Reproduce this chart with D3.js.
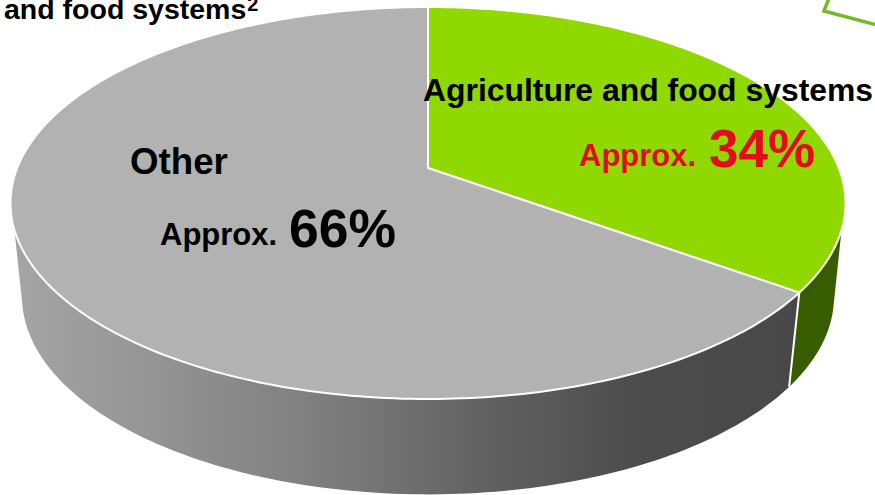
<!DOCTYPE html>
<html><head><meta charset="utf-8">
<script src="https://cdn.jsdelivr.net/npm/d3@7"></script>
<style>
html,body{margin:0;padding:0;background:#fff;overflow:hidden}
text{font-family:"Liberation Sans",Arial,sans-serif;font-weight:700}
</style></head><body>
<svg id="c" width="875" height="495"></svg>
<script>
const categories = ["Agriculture and food systems", "Other"];
const shares = [34, 66];
const prefixLabel = "Approx.";
const shareLabels = ["34%", "66%"];
const topColors = ["#8fd800", "#b2b2b2"];
const wallColors = ["#385c00", "url(#wall)"];
const headerFragment = "and food systems";

const svg = d3.select("#c");
const defs = svg.append("defs");
const grad = defs.append("linearGradient").attr("id","wall").attr("gradientUnits","userSpaceOnUse")
  .attr("x1",12).attr("x2",800).attr("y1",0).attr("y2",0);
[[0,"#a5a5a5"],[0.15,"#969796"],[0.4,"#7c7d7c"],[0.6,"#616161"],[0.8,"#4c4c4c"],[1,"#484848"]]
  .forEach(([o,c])=>grad.append("stop").attr("offset",o).attr("stop-color",c));

// Perspective view of a tilted disc: the pie's centre sits above the ellipse's centre.
const persp = -0.1786;
const topDisc = {cx:428, cy:168, a:189.75, b:410.8};
const baseDisc = {cx:428, cy:261, a:191.7, b:399.5};
// The reference's 3-D view widens the first share slightly (about 126 degrees on screen).
const warp = t => t + 0.0716*Math.sin(t/2);
function project(t, d){
  const s = warp(t), u = Math.sin(s), v = -Math.cos(s), w = 1 + persp*v;
  return [d.cx + d.b*u/w, d.cy + d.a*v/w];
}
const arcs = d3.pie().sort(null)(shares);
const samples = (a,b,n=120)=>d3.range(n+1).map(i=>a+(b-a)*i/n);
const line = d3.line();

// side wall: the top rim runs higher up the disc than the base rim's silhouette
const rimRange = [1.827, 4.34];
const baseRange = [1.76, 4.41];
const wall = svg.append("g");
arcs.forEach((d,i)=>{
  const top = samples(Math.max(d.startAngle,rimRange[0]), Math.min(d.endAngle,rimRange[1]));
  const base = samples(Math.max(d.startAngle,baseRange[0]), Math.min(d.endAngle,baseRange[1]));
  const pts = top.map(t=>project(t,topDisc)).concat(base.reverse().map(t=>project(t,baseDisc)));
  wall.append("path").attr("d",line(pts)+"Z").attr("fill",wallColors[i]);
});
// white seam between the two wall colours
const seam = arcs[0].endAngle;
wall.append("path").attr("d",line([project(seam,topDisc),project(seam,baseDisc)]))
  .attr("stroke","#fff").attr("stroke-width",2).attr("fill","none");

// top face
arcs.forEach((d,i)=>{
  const pts = [[topDisc.cx,topDisc.cy]].concat(samples(d.startAngle,d.endAngle,240).map(t=>project(t,topDisc)));
  svg.append("path").attr("d",line(pts)+"Z").attr("fill",topColors[i])
    .attr("stroke","#fff").attr("stroke-width",2).attr("stroke-linejoin","round");
});

// corner of the neighbouring callout box, cropped by the frame
svg.append("path").attr("d",line([[829,-2],[824,11],[877,25]]))
  .attr("fill","none").attr("stroke","#76b82a").attr("stroke-width",3.5);

const t = (x,y,str,size,fill)=>svg.append("text").attr("x",x).attr("y",y)
  .attr("font-size",size).attr("fill",fill).text(str);

const head = t(4,18.5,headerFragment,28.5,"#000");
head.append("tspan").attr("font-size",20).attr("dx",1).attr("dy",-7.5).text("2");
t(423,101,categories[0],31.9,"#000");
t(579,166,prefixLabel,31,"#e30b1d");
t(709,167,shareLabels[0],53,"#e30b1d");
t(130,174,categories[1],36.7,"#000");
t(160,245,prefixLabel,31,"#000");
t(289,247,shareLabels[1],53.5,"#000");
</script></body></html>
